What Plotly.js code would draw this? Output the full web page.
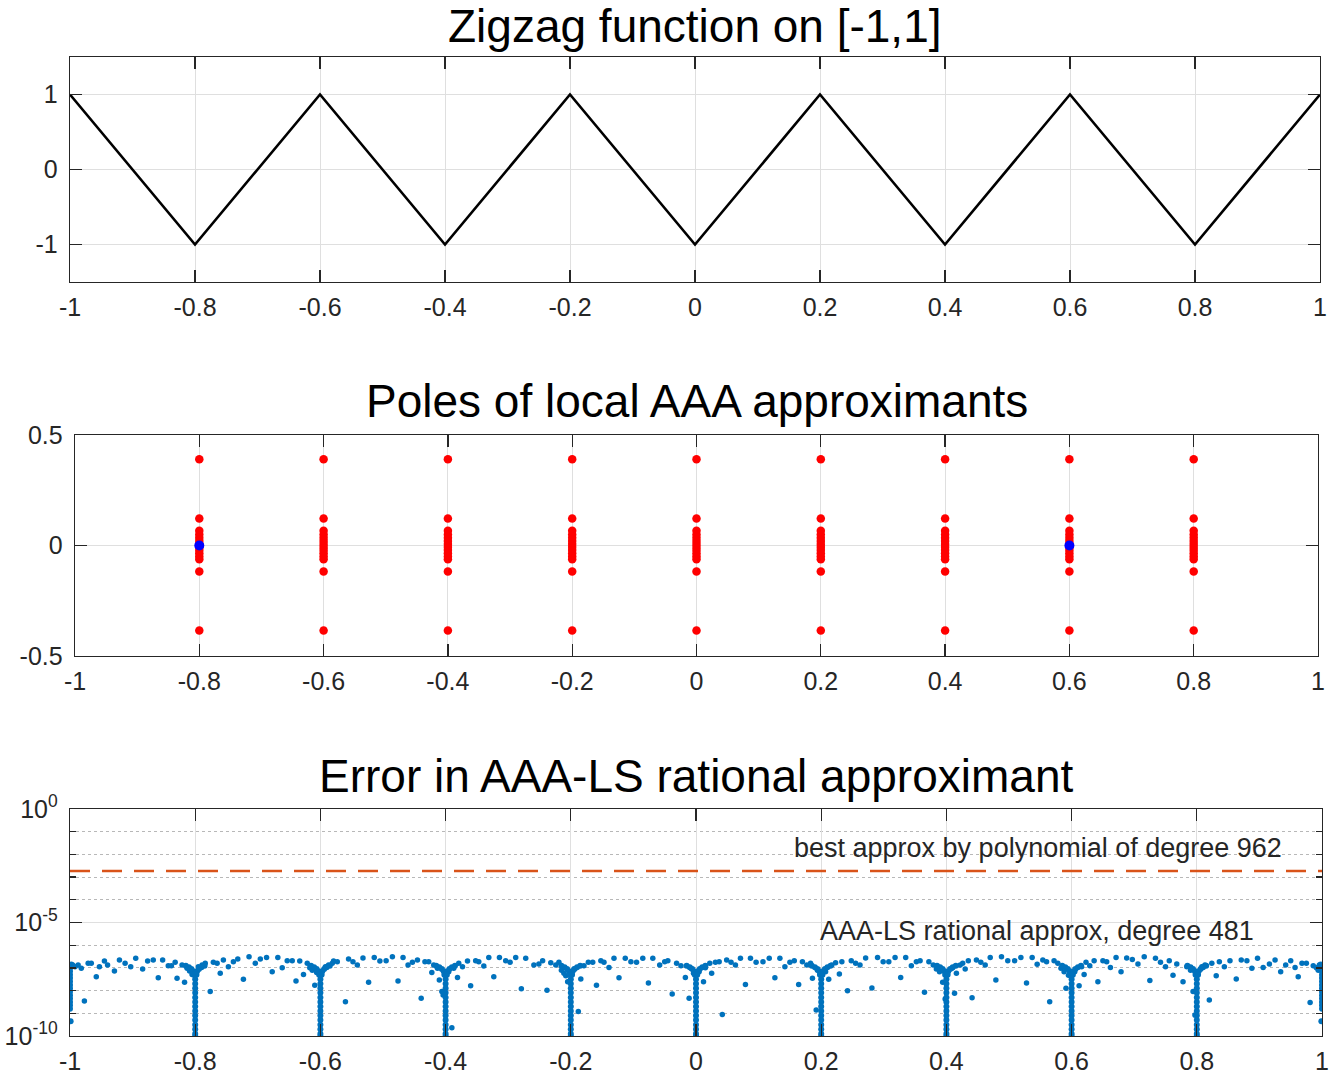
<!DOCTYPE html>
<html>
<head>
<meta charset="utf-8">
<script src="https://cdn.plot.ly/plotly-3.0.1.min.js"></script>
<style>html,body{margin:0;padding:0;background:#fff;}#chart{width:1332px;height:1081px;}</style>
</head>
<body>
<div id="chart"></div>
<script>
// ---------- Panel 1: zigzag ----------
const zigX = [-1, -0.8, -0.6, -0.4, -0.2, 0, 0.2, 0.4, 0.6, 0.8, 1];
const zigY = [1, -1, 1, -1, 1, -1, 1, -1, 1, -1, 1];

// ---------- Panel 2: poles ----------
const poleRe = [-0.8, -0.6, -0.4, -0.2, 0, 0.2, 0.4, 0.6, 0.8];
const poleIm = [0.39, 0.122, 0.067, 0.05, 0.035, 0.02, 0.007, -0.007, -0.02, -0.035, -0.05, -0.062, -0.118, -0.385];
const realPoleX = [-0.8, 0.6];
const realPoleY = [0, 0];

// ---------- Panel 3: error ----------
const bestPolyErr = 1.86e-3;
const ticksErrVals = [1e-10, 1e-5, 1];
const ticksErrText = ['10<sup>-10</sup>', '10<sup>-5</sup>', '10<sup>0</sup>'];
const minorErrVals = [1e-9, 1e-8, 1e-7, 1e-6, 1e-4, 1e-3, 1e-2, 1e-1];

// scattered error samples between breakpoints (x, log10 error)
const errX = [
 -0.992,-0.987,-0.982,-0.971,-0.966,-0.958,-0.953,-0.945,-0.940,-0.929,-0.921,-0.912,-0.903,-0.895,-0.884,-0.876,-0.867,-0.859,-0.852,-0.843,-0.838,-0.832,-0.829,-0.821,-0.817,-0.813,-0.809,-0.805,-0.977,
 -0.795,-0.789,-0.784,-0.776,-0.771,-0.765,-0.760,-0.755,-0.747,-0.739,-0.732,-0.723,-0.714,-0.704,-0.696,-0.686,-0.677,-0.668,-0.661,-0.653,-0.645,-0.639,-0.633,-0.627,-0.621,-0.617,-0.613,-0.609,-0.606,
 -0.592,-0.587,-0.581,-0.579,-0.573,-0.560,-0.555,-0.548,-0.541,-0.532,-0.523,-0.514,-0.505,-0.495,-0.485,-0.476,-0.468,-0.460,-0.453,-0.445,-0.439,-0.433,-0.427,-0.422,-0.419,-0.413,-0.410,-0.406,-0.404,
 -0.395,-0.390,-0.387,-0.381,-0.379,-0.373,-0.365,-0.360,-0.352,-0.347,-0.339,-0.331,-0.323,-0.314,-0.304,-0.297,-0.288,-0.279,-0.272,-0.259,-0.251,-0.245,-0.238,-0.232,-0.224,-0.219,-0.215,-0.211,-0.208,-0.205,
 -0.195,-0.188,-0.184,-0.179,-0.172,-0.165,-0.159,-0.152,-0.147,-0.139,-0.131,-0.123,-0.113,-0.104,-0.095,-0.085,-0.076,-0.069,-0.058,-0.050,-0.045,-0.038,-0.031,-0.024,-0.017,-0.011,-0.008,-0.004,
 0.005,0.012,0.015,0.022,0.025,0.031,0.037,0.042,0.049,0.056,0.063,0.071,0.079,0.087,0.096,0.107,0.117,0.126,0.134,0.142,0.150,0.157,0.164,0.170,0.177,0.183,0.186,0.192,0.194,
 0.207,0.212,0.217,0.223,0.229,0.233,0.242,0.248,0.255,0.262,0.271,0.281,0.290,0.299,0.308,0.318,0.327,0.335,0.344,0.352,0.358,0.365,0.372,0.379,0.384,0.389,0.394,0.398,
 0.409,0.413,0.416,0.422,0.426,0.430,0.435,0.441,0.448,0.455,0.462,0.470,0.479,0.488,0.498,0.509,0.519,0.528,0.537,0.545,0.554,0.560,0.565,0.572,0.578,0.583,0.588,0.591,0.595,
 0.605,0.612,0.616,0.620,0.623,0.629,0.636,0.642,0.650,0.656,0.662,0.671,0.679,0.688,0.697,0.706,0.716,0.725,0.734,0.742,0.750,0.756,0.762,0.768,0.778,0.784,0.790,0.794,0.797,
 0.808,0.813,0.820,0.824,0.831,0.836,0.844,0.853,0.863,0.871,0.880,0.888,0.897,0.906,0.916,0.925,0.934,0.942,0.950,0.957,0.962,0.968,0.975,0.981,0.986,0.991,0.994
];
const errLog = [
 -6.95,-6.87,-7.02,-6.80,-6.80,-7.39,-6.95,-6.70,-6.87,-7.14,-6.65,-6.80,-6.95,-6.58,-7.05,-6.70,-6.65,-7.43,-6.65,-6.90,-6.90,-6.75,-7.46,-6.87,-7.63,-7.02,-7.14,-7.29,-8.46,
 -6.95,-6.87,-6.80,-8.04,-6.75,-6.80,-7.24,-6.65,-6.95,-6.73,-6.61,-7.50,-6.51,-6.80,-6.61,-6.54,-7.17,-6.54,-6.99,-6.68,-6.68,-7.58,-6.70,-7.29,-6.80,-6.99,-7.10,-7.76,-7.20,
 -6.95,-6.87,-6.80,-6.70,-6.73,-8.49,-6.61,-6.73,-6.87,-6.56,-7.63,-6.54,-6.70,-6.68,-6.51,-7.58,-6.54,-6.87,-6.75,-6.65,-8.34,-6.73,-6.73,-7.20,-6.87,-7.02,-7.53,-8.04,-8.19,
 -7.17,-9.64,-7.02,-7.42,-6.80,-6.95,-6.70,-7.79,-6.68,-6.73,-6.92,-6.54,-7.39,-6.54,-6.68,-6.75,-6.54,-7.92,-6.58,-6.87,-6.83,-6.68,-7.99,-6.77,-6.87,-6.75,-7.10,-7.24,-7.35,-7.61,
 -7.05,-8.92,-7.49,-6.90,-6.75,-6.75,-7.76,-6.68,-6.75,-6.98,-6.58,-7.43,-6.58,-6.73,-6.75,-6.58,-7.67,-6.58,-6.87,-6.73,-6.68,-8.15,-6.80,-6.90,-7.42,-8.34,-7.02,-7.24,
 -7.17,-7.61,-6.99,-6.80,-7.24,-6.75,-6.73,-9.05,-6.65,-6.75,-6.87,-6.58,-7.73,-6.58,-6.75,-6.73,-6.58,-7.43,-6.58,-6.95,-6.75,-6.68,-7.73,-6.73,-6.87,-6.80,-7.46,-8.86,-7.10,
 -7.17,-7.50,-6.87,-6.77,-7.27,-6.73,-8.01,-6.68,-6.80,-6.87,-6.56,-7.88,-6.54,-6.73,-6.73,-6.54,-7.42,-6.54,-6.90,-6.73,-6.68,-8.07,-6.73,-6.87,-7.05,-7.17,-7.63,-8.37,
 -7.02,-8.12,-7.24,-6.87,-6.80,-7.05,-6.68,-8.32,-6.65,-6.75,-6.87,-6.54,-7.53,-6.51,-6.68,-6.68,-6.54,-7.67,-6.54,-6.84,-6.65,-6.73,-8.49,-6.68,-6.80,-7.02,-7.17,-7.90,-7.32,
 -7.17,-7.79,-6.95,-7.29,-6.75,-6.90,-6.68,-7.61,-6.68,-6.73,-6.98,-6.54,-7.17,-6.56,-6.63,-6.83,-6.51,-7.56,-6.58,-6.75,-6.95,-6.68,-7.32,-6.83,-7.61,-6.95,-7.10,-8.04,-9.08,
 -6.95,-6.87,-8.41,-6.80,-7.35,-6.73,-6.95,-6.68,-7.49,-6.65,-6.68,-7.02,-6.58,-6.98,-6.83,-6.65,-7.17,-6.87,-6.68,-6.98,-7.39,-6.80,-6.80,-8.52,-6.90,-6.99,-7.10
];

// dense error columns at the breakpoints (x, log10 error)
const colX = [
 -1,-1,-1,-1,-1,-1,-1,-1,-1,-1,-1,-1,-1,-1,-0.999,-0.998,-0.996,
 -0.8,-0.8,-0.8,-0.8,-0.8,-0.8,-0.8,-0.8,-0.8,-0.8,-0.8,-0.8,-0.8,-0.8,-0.8,-0.803,-0.797,-0.806,-0.794,-0.81,-0.79,-0.815,-0.785,-0.802,-0.798,
 -0.6,-0.6,-0.6,-0.6,-0.6,-0.6,-0.6,-0.6,-0.6,-0.6,-0.6,-0.6,-0.6,-0.6,-0.6,-0.603,-0.597,-0.606,-0.594,-0.61,-0.59,-0.615,-0.585,-0.602,-0.598,
 -0.4,-0.4,-0.4,-0.4,-0.4,-0.4,-0.4,-0.4,-0.4,-0.4,-0.4,-0.4,-0.4,-0.4,-0.4,-0.403,-0.397,-0.406,-0.394,-0.41,-0.39,-0.415,-0.385,-0.402,-0.398,
 -0.2,-0.2,-0.2,-0.2,-0.2,-0.2,-0.2,-0.2,-0.2,-0.2,-0.2,-0.2,-0.2,-0.2,-0.2,-0.203,-0.197,-0.206,-0.194,-0.21,-0.19,-0.215,-0.185,-0.202,-0.198,
 0,0,0,0,0,0,0,0,0,0,0,0,0,0,0,-0.003,0.003,-0.006,0.006,-0.01,0.01,-0.015,0.015,-0.002,0.002,
 0.2,0.2,0.2,0.2,0.2,0.2,0.2,0.2,0.2,0.2,0.2,0.2,0.2,0.2,0.2,0.197,0.203,0.194,0.206,0.19,0.21,0.185,0.215,0.198,0.202,
 0.4,0.4,0.4,0.4,0.4,0.4,0.4,0.4,0.4,0.4,0.4,0.4,0.4,0.4,0.4,0.397,0.403,0.394,0.406,0.39,0.41,0.385,0.415,0.398,0.402,
 0.6,0.6,0.6,0.6,0.6,0.6,0.6,0.6,0.6,0.6,0.6,0.6,0.6,0.6,0.6,0.597,0.603,0.594,0.606,0.59,0.61,0.585,0.615,0.598,0.602,
 0.8,0.8,0.8,0.8,0.8,0.8,0.8,0.8,0.8,0.8,0.8,0.8,0.8,0.8,0.8,0.797,0.803,0.794,0.806,0.79,0.81,0.785,0.815,0.798,0.802,
 1,1,1,1,1,1,1,1,1,1,1,1,1,1,0.999,0.998,0.996
];
const colLog = [
 -6.90,-7.00,-7.15,-7.30,-7.45,-7.60,-7.75,-7.90,-8.05,-8.20,-8.35,-8.50,-8.65,-8.80,-9.35,-6.85,-6.88,
 -7.30,-7.50,-7.70,-7.90,-8.10,-8.30,-8.50,-8.70,-8.90,-9.10,-9.30,-9.50,-9.70,-9.90,-10.0,-7.15,-7.15,-7.05,-7.05,-6.97,-6.97,-6.90,-6.90,-7.30,-7.30,
 -7.30,-7.50,-7.70,-7.90,-8.10,-8.30,-8.50,-8.70,-8.90,-9.10,-9.30,-9.50,-9.70,-9.90,-10.0,-7.15,-7.15,-7.05,-7.05,-6.97,-6.97,-6.90,-6.90,-7.30,-7.30,
 -7.30,-7.50,-7.70,-7.90,-8.10,-8.30,-8.50,-8.70,-8.90,-9.10,-9.30,-9.50,-9.70,-9.90,-10.0,-7.15,-7.15,-7.05,-7.05,-6.97,-6.97,-6.90,-6.90,-7.30,-7.30,
 -7.30,-7.50,-7.70,-7.90,-8.10,-8.30,-8.50,-8.70,-8.90,-9.10,-9.30,-9.50,-9.70,-9.90,-10.0,-7.15,-7.15,-7.05,-7.05,-6.97,-6.97,-6.90,-6.90,-7.30,-7.30,
 -7.30,-7.50,-7.70,-7.90,-8.10,-8.30,-8.50,-8.70,-8.90,-9.10,-9.30,-9.50,-9.70,-9.90,-10.0,-7.15,-7.15,-7.05,-7.05,-6.97,-6.97,-6.90,-6.90,-7.30,-7.30,
 -7.30,-7.50,-7.70,-7.90,-8.10,-8.30,-8.50,-8.70,-8.90,-9.10,-9.30,-9.50,-9.70,-9.90,-10.0,-7.15,-7.15,-7.05,-7.05,-6.97,-6.97,-6.90,-6.90,-7.30,-7.30,
 -7.30,-7.50,-7.70,-7.90,-8.10,-8.30,-8.50,-8.70,-8.90,-9.10,-9.30,-9.50,-9.70,-9.90,-10.0,-7.15,-7.15,-7.05,-7.05,-6.97,-6.97,-6.90,-6.90,-7.30,-7.30,
 -7.30,-7.50,-7.70,-7.90,-8.10,-8.30,-8.50,-8.70,-8.90,-9.10,-9.30,-9.50,-9.70,-9.90,-10.0,-7.15,-7.15,-7.05,-7.05,-6.97,-6.97,-6.90,-6.90,-7.30,-7.30,
 -7.30,-7.50,-7.70,-7.90,-8.10,-8.30,-8.50,-8.70,-8.90,-9.10,-9.30,-9.50,-9.70,-9.90,-10.0,-7.15,-7.15,-7.05,-7.05,-6.97,-6.97,-6.90,-6.90,-7.30,-7.30,
 -6.90,-7.00,-7.15,-7.30,-7.45,-7.60,-7.75,-7.90,-8.05,-8.20,-8.35,-8.50,-8.65,-8.80,-9.35,-6.85,-6.88
];

const titles = ['Zigzag function on [-1,1]', 'Poles of local AAA approximants', 'Error in AAA-LS rational approximant'];
const noteBest = 'best approx by polynomial of degree 962';
const noteAAA = 'AAA-LS rational approx, degree 481';

const xTickVals = [-1, -0.8, -0.6, -0.4, -0.2, 0, 0.2, 0.4, 0.6, 0.8, 1];
const xTickText = ['-1', '-0.8', '-0.6', '-0.4', '-0.2', '0', '0.2', '0.4', '0.6', '0.8', '1'];

// ---------- build ----------
const poleX = [], poleY = [];
poleRe.forEach(r => poleIm.forEach(im => { poleX.push(r); poleY.push(im); }));

const FONT = 'Liberation Sans, Arial, Helvetica, sans-serif';
const AX = '#262626';
const GRID = '#dfdfdf';
const W = 1332, H = 1081;
const TICKSIZE = 25;

function xaxis(l, r) {
  return {
    domain: [l / W, r / W], range: [-1, 1], tickvals: xTickVals, ticktext: xTickText,
    showline: true, linecolor: AX, linewidth: 1.3, mirror: 'ticks',
    ticks: 'inside', ticklen: 12, tickcolor: AX, tickwidth: 1.3,
    showgrid: true, gridcolor: GRID, gridwidth: 1, zeroline: false,
    tickfont: { family: FONT, size: TICKSIZE, color: AX }, ticklabelstandoff: 3
  };
}
function ydom(t, b) { return [1 - b / H, 1 - t / H]; }

const traces = [
  { x: zigX, y: zigY, type: 'scatter', mode: 'lines', line: { color: '#000', width: 2.6 }, xaxis: 'x', yaxis: 'y' },
  { x: poleX, y: poleY, type: 'scatter', mode: 'markers', marker: { color: '#ff0000', size: 8.5 }, xaxis: 'x2', yaxis: 'y2' },
  { x: realPoleX, y: realPoleY, type: 'scatter', mode: 'markers', marker: { color: '#0000ff', size: 10 }, xaxis: 'x2', yaxis: 'y2' },
  { x: [-1, 1], y: [bestPolyErr, bestPolyErr], type: 'scatter', mode: 'lines', line: { color: '#D95319', width: 2.6, dash: '20px,12px' }, xaxis: 'x3', yaxis: 'y3' },
  { x: errX, y: errLog.map(v => Math.pow(10, v)), type: 'scatter', mode: 'markers', marker: { color: '#0072BD', size: 5.5 }, xaxis: 'x3', yaxis: 'y3', cliponaxis: false },
  { x: colX, y: colLog.map(v => Math.pow(10, v)), type: 'scatter', mode: 'markers', marker: { color: '#0072BD', size: 6 }, xaxis: 'x3', yaxis: 'y3', cliponaxis: true }
];

const yBase = {
  showline: true, linecolor: AX, linewidth: 1.3, mirror: 'ticks',
  ticks: 'inside', ticklen: 12, tickcolor: AX, tickwidth: 1.3,
  showgrid: true, gridcolor: GRID, gridwidth: 1, zeroline: false,
  tickfont: { family: FONT, size: TICKSIZE, color: AX }, ticklabelstandoff: 6
};

const layout = {
  width: W, height: H, showlegend: false,
  paper_bgcolor: '#fff', plot_bgcolor: '#fff',
  margin: { l: 0, r: 0, t: 0, b: 0 },
  font: { family: FONT, color: AX },
  xaxis: Object.assign(xaxis(70, 1320), { anchor: 'y' }),
  yaxis: Object.assign({}, yBase, { domain: ydom(57, 282), range: [-1.5, 1.5], tickvals: [-1, 0, 1], ticktext: ['-1', '0', '1'], anchor: 'x' }),
  xaxis2: Object.assign(xaxis(75, 1318), { anchor: 'y2' }),
  yaxis2: Object.assign({}, yBase, { domain: ydom(435, 656), range: [-0.5, 0.5], tickvals: [-0.5, 0, 0.5], ticktext: ['-0.5', '0', '0.5'], anchor: 'x2' }),
  xaxis3: Object.assign(xaxis(70, 1322), { anchor: 'y3' }),
  yaxis3: Object.assign({}, yBase, {
    domain: ydom(809, 1036), type: 'log', range: [-10, 0],
    tickvals: ticksErrVals, ticktext: ticksErrText, anchor: 'x3',
    minor: { tickvals: minorErrVals, ticks: 'inside', ticklen: 6, tickcolor: AX, showgrid: true, gridcolor: '#b8b8b8', griddash: 'dot', gridwidth: 1 }
  }),
  annotations: [
    { text: titles[0], xref: 'paper', yref: 'paper', x: (70 + 1320) / 2 / W, y: 1 - 26 / H, xanchor: 'center', yanchor: 'middle', showarrow: false, font: { family: FONT, size: 46, color: '#000' } },
    { text: titles[1], xref: 'paper', yref: 'paper', x: (75 + 1318) / 2 / W, y: 1 - 401 / H, xanchor: 'center', yanchor: 'middle', showarrow: false, font: { family: FONT, size: 46, color: '#000' } },
    { text: titles[2], xref: 'paper', yref: 'paper', x: (70 + 1322) / 2 / W, y: 1 - 776 / H, xanchor: 'center', yanchor: 'middle', showarrow: false, font: { family: FONT, size: 46, color: '#000' } },
    { text: noteBest, xref: 'x3', yref: 'y3', x: 0.94, y: -1.72, xanchor: 'right', yanchor: 'middle', showarrow: false, font: { family: FONT, size: 27, color: AX } },
    { text: noteAAA, xref: 'x3', yref: 'y3', x: 0.895, y: -5.37, xanchor: 'right', yanchor: 'middle', showarrow: false, font: { family: FONT, size: 27, color: AX } }
  ]
};

Plotly.newPlot('chart', traces, layout, { staticPlot: true, displayModeBar: false });
</script>
</body>
</html>
